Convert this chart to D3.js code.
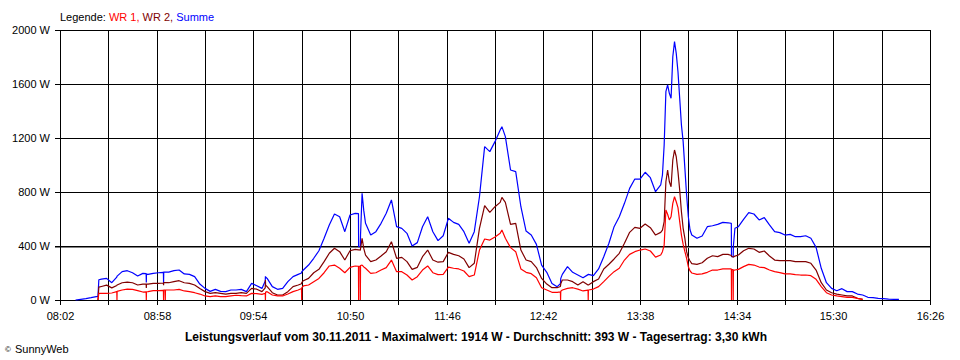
<!DOCTYPE html>
<html><head><meta charset="utf-8">
<script src="https://cdn.jsdelivr.net/npm/d3@7"></script>
<style>
body{margin:0;background:#fff}
svg{display:block}
text{font-family:"Liberation Sans",Arial,sans-serif;white-space:pre}
</style>
</head><body>
<svg id="chart" width="960" height="360"></svg>
<script>
// ---- data ----
const times = [
"08:11","08:14","08:17","08:20","08:23","08:24","08:24:30","08:26","08:29","08:32",
"08:34:54","08:35","08:35:06","08:38","08:41","08:44","08:47","08:50","08:51:54","08:52",
"08:52:06","08:53","08:56","08:59","09:01:54","09:02","09:02:06","09:02:54","09:03","09:03:06",
"09:05","09:08","09:11","09:14","09:17","09:20","09:23","09:26","09:29","09:32",
"09:35","09:38","09:41","09:44","09:47","09:50","09:53","09:56","09:59","10:00:54",
"10:01","10:01:06","10:02","10:05","10:08","10:11","10:14","10:17","10:20","10:21:54",
"10:22","10:22:06","10:23","10:26","10:29","10:32","10:35","10:38","10:41","10:44",
"10:47","10:50","10:53","10:54:54","10:55","10:55:06","10:55:54","10:56","10:56:06","10:57",
"10:58","10:59","11:02","11:05","11:08","11:11","11:14","11:17","11:20","11:23",
"11:26","11:29","11:32","11:35","11:38","11:41","11:44","11:47","11:50","11:53",
"11:56","11:59","12:02","12:05","12:08","12:11","12:14","12:17","12:18","12:20",
"12:23","12:26","12:29","12:32","12:35","12:38","12:41","12:44","12:47","12:50",
"12:51:54","12:52","12:52:06","12:53","12:56","12:59","13:02","13:05","13:07:54","13:08",
"13:08:06","13:11","13:14","13:17","13:20","13:23","13:26","13:29","13:32","13:35",
"13:38","13:41","13:44","13:47","13:50","13:51","13:52","13:53","13:54","13:55",
"13:56","13:57","13:58","13:59","14:00","14:01","14:02","14:03","14:04","14:05",
"14:06","14:07","14:08","14:11","14:14","14:17","14:20","14:23","14:26","14:29",
"14:30:54","14:31","14:31:06","14:31:54","14:32","14:32:06","14:33","14:35","14:38","14:41",
"14:44","14:47","14:50","14:53","14:56","14:59","15:02","15:05","15:08","15:11",
"15:14","15:17","15:20","15:23","15:26","15:29","15:32","15:35","15:38","15:41",
"15:44","15:47","15:50","15:53","15:56","15:59","16:02","16:05","16:08"
];
const summe = [
0,5,10,17,25,27,150,155,160,128,
170,175,177,210,217,202,178,197,195,130,
192,190,197,202,205,125,207,207,207,207,
207,217,222,193,190,173,118,86,64,79,
64,62,74,74,79,62,123,105,86,140,
175,170,160,99,79,86,136,173,190,200,
205,210,222,259,309,365,457,556,637,617,
506,630,642,640,395,395,395,395,480,790,
660,568,481,506,568,642,741,543,531,494,
400,425,543,617,506,440,476,605,575,560,
506,420,506,765,1136,1099,1173,1259,1284,1210,
963,951,691,511,481,412,259,205,123,99,
120,140,160,190,247,205,185,165,188,190,
190,180,230,321,420,543,617,716,827,896,
896,946,906,802,852,926,1148,1543,1593,1531,
1494,1802,1914,1827,1691,1494,1296,1173,975,778,
617,518,481,457,474,543,550,560,575,572,
568,321,321,321,321,400,531,543,597,647,
637,593,610,556,506,499,481,486,469,469,
476,457,390,235,128,86,69,84,62,62,
44,37,20,17,12,10,7,5,5
];
const wr2 = [
null,null,null,null,null,0,95,100,110,90,
108,110,111,128,133,128,111,118,118,90,
118,118,123,123,126,110,128,128,128,128,
128,136,143,128,123,111,86,62,49,54,
49,44,49,49,54,49,86,80,62,90,
148,110,99,54,37,37,62,99,111,120,
125,130,143,160,202,227,284,346,383,358,
296,365,375,372,372,372,370,370,380,457,
380,333,284,296,326,358,432,309,316,284,
227,242,321,370,296,280,284,353,338,328,
304,240,272,531,699,649,691,723,760,723,
560,568,370,296,284,240,160,118,91,91,
100,110,120,148,148,136,111,136,112,111,
112,136,156,230,265,304,346,420,501,538,
531,563,536,481,501,518,580,876,963,876,
839,1037,1111,1061,951,815,654,531,457,358,
313,289,269,264,276,309,328,321,338,338,
330,325,322,320,316,318,325,333,365,383,
378,353,363,326,296,291,291,291,284,284,
284,272,222,128,74,54,44,37,30,30,
12,5,null,null,null,null,null,null,null
];
const wr1 = [
null,null,null,null,null,0,49,49,49,52,
62,0,64,74,81,79,69,59,60,0,
61,62,69,69,72,0,74,74,0,74,
74,74,79,67,62,54,44,30,25,30,
25,25,30,35,32,30,49,47,42,50,
0,58,62,37,30,30,44,62,74,85,
0,92,104,111,136,160,202,252,259,235,
202,242,252,250,0,250,250,0,255,259,
245,235,197,202,222,240,296,210,210,185,
148,173,222,252,202,188,190,244,235,230,
215,173,185,370,452,444,467,494,518,457,
388,358,230,205,195,165,91,74,57,57,
60,0,65,74,86,91,81,67,73,0,
74,81,99,136,175,210,235,296,338,358,
370,378,363,318,333,358,407,667,635,593,
617,716,765,728,684,580,481,412,358,309,
247,215,200,190,193,205,222,222,230,230,
230,0,225,225,0,222,222,227,247,264,
259,244,240,222,210,203,193,193,188,185,
185,180,153,99,54,37,30,25,20,20,
12,5,null,null,null,null,null,null,null
];
const xTickTimes = ["08:02","08:30","08:58","09:26","09:54","10:22","10:50","11:18","11:46","12:14",
"12:42","13:10","13:38","14:06","14:34","15:02","15:30","15:58","16:26"];
const xTickLabels = ["08:02","08:58","09:54","10:50","11:46","12:42","13:38","14:34","15:30","16:26"];
const yTicks = [0,400,800,1200,1600,2000];
const seriesNames = ["WR 1","WR 2","Summe"];
const titleText = "Leistungsverlauf vom 30.11.2011 - Maximalwert: 1914 W - Durchschnitt: 393 W - Tagesertrag: 3,30 kWh";

// ---- drawing ----
const toMin = s => { const p = s.split(":").map(Number); return p[0]*60 + p[1] + (p[2]||0)/60; };
const svg = d3.select("#chart");
const x = d3.scaleLinear().domain([toMin("08:02"), toMin("16:26")]).range([60, 930]);
const xr = x.copy().interpolate(d3.interpolateRound);
const y = d3.scaleLinear().domain([0, 2000]).range([300, 30]);

// vertical grid
svg.append("g").attr("transform","translate(0,300)")
  .call(d3.axisBottom(xr).tickValues(xTickTimes.map(toMin)).tickSizeInner(-270).tickSizeOuter(0).tickFormat(""))
  .call(g => g.select(".domain").remove())
  .call(g => g.selectAll("line").attr("stroke","#000"));
// horizontal grid
svg.append("g").attr("transform","translate(930,0)")
  .call(d3.axisLeft(y).tickValues(yTicks).tickSizeInner(875).tickSizeOuter(0).tickFormat(""))
  .call(g => g.select(".domain").remove())
  .call(g => g.selectAll("line").attr("stroke","#000"));
// grey line under 400 W
svg.append("line").attr("x1",55).attr("x2",930)
  .attr("y1", y(400)+1.5).attr("y2", y(400)+1.5).attr("stroke","#808080");

// x axis labels + ticks
const xa = svg.append("g").attr("transform","translate(0,300)")
  .call(d3.axisBottom(xr).tickValues(xTickTimes.map(toMin)).tickSize(5).tickPadding(7)
    .tickFormat((d,i) => i % 2 === 0 ? xTickLabels[i/2] : ""));
xa.select(".domain").attr("stroke","#000");
xa.selectAll("text").attr("font-size",11).attr("font-family",'"Liberation Sans",Arial,sans-serif').attr("fill","#000");
xa.selectAll("line").attr("stroke","#000");

const ya = svg.append("g").attr("transform","translate(60,0)")
  .call(d3.axisLeft(y).tickValues(yTicks).tickSize(5).tickPadding(5).tickFormat(d => d + " W"));
ya.select(".domain").attr("stroke","#000");
ya.selectAll("text").attr("font-size",11).attr("font-family",'"Liberation Sans",Arial,sans-serif').attr("fill","#000");
ya.selectAll("line").attr("stroke","#000");

// series
const tMin = times.map(toMin);
const colors = ["#ff0000","#800000","#0000ff"];
const series = [wr1, wr2, summe];
const line = d3.line().defined(d => d.v != null).x(d => x(d.t)).y(d => y(d.v));
[2,1,0].forEach(k => {
  const data = series[k].map((v,i) => ({t: tMin[i], v}));
  svg.append("path").datum(data).attr("d", line)
    .attr("fill","none").attr("stroke", colors[k]).attr("stroke-width",1.2)
    .attr("stroke-linejoin","bevel");
});

// legend
const lg = svg.append("text").attr("x",60).attr("y",20.5).attr("font-size",11);
lg.append("tspan").attr("fill","#000").text("Legende: ");
seriesNames.forEach((n,i) => lg.append("tspan").attr("fill",colors[i]).text(n + (i < 2 ? ", " : "")));

// title
svg.append("text").attr("x",476).attr("y",340.5).attr("text-anchor","middle")
  .attr("font-size",12).attr("font-weight","bold").attr("fill","#000").text(titleText);
// copyright
svg.append("text").attr("x",5).attr("y",352).attr("font-size",8).text("©");
svg.append("text").attr("x",15).attr("y",353).attr("font-size",11).text("SunnyWeb");
</script>
</body></html>
